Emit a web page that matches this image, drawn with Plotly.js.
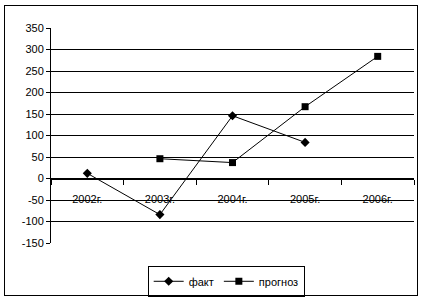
<!DOCTYPE html>
<html><head><meta charset="utf-8">
<script src="https://cdn.plot.ly/plotly-3.0.1.min.js"></script>
<style>
html,body{margin:0;padding:0;background:#fff;}
#wrap{position:relative;width:422px;height:301px;}
#chart{position:absolute;left:0;top:0;width:422px;height:301px;}
#frame{position:absolute;left:4px;top:5px;width:412px;height:289px;border:1px solid #000;pointer-events:none;}
</style></head>
<body><div id="wrap"><div id="chart"></div><div id="frame"></div></div>
<script>
var categories = ["2002г.", "2003г.", "2004г.", "2005г.", "2006г."];
var faktValues = [12, -84, 146, 84, null];
var prognozValues = [null, 46, 37, 167, 284];
var yTicks = [-150, -100, -50, 0, 50, 100, 150, 200, 250, 300, 350];

var font = {family: "Liberation Sans, Arial, sans-serif", size: 11, color: "#000"};
var traces = [
  {x: categories, y: faktValues, name: "факт", type: "scatter", mode: "lines+markers",
   line: {color: "#000", width: 1}, marker: {symbol: "diamond", size: 7, color: "#000"}},
  {x: categories, y: prognozValues, name: "прогноз", type: "scatter", mode: "lines+markers",
   line: {color: "#000", width: 1}, marker: {symbol: "square", size: 7, color: "#000"}}
];
var layout = {
  width: 422, height: 301,
  margin: {l: 51, r: 8, t: 28, b: 58, pad: 0, autoexpand: false},
  paper_bgcolor: "#fff", plot_bgcolor: "#fff",
  font: font,
  showlegend: true,
  legend: {orientation: "h", xref: "container", x: 0.536, xanchor: "center",
           yref: "container", y: 0.117, yanchor: "top",
           bordercolor: "#000", borderwidth: 1, bgcolor: "#fff", font: font,
           itemwidth: 30, tracegroupgap: 0},
  xaxis: {type: "category", anchor: "free", position: 0.3, showline: true, linecolor: "#000", linewidth: 1,
          ticks: "outside", ticklen: 5, tickcolor: "#000", tickson: "boundaries",
          showgrid: false, zeroline: false, ticklabelstandoff: 10, tickfont: font,
          range: [-0.5, 4.5], fixedrange: true, automargin: false},
  yaxis: {range: [-150, 350], tickvals: yTicks, ticktext: yTicks.map(String),
          showline: true, linecolor: "#000", linewidth: 1, ticks: "outside", ticklen: 4, tickcolor: "#000",
          showgrid: true, gridcolor: "#000", gridwidth: 1, zeroline: true, zerolinecolor: "#000", zerolinewidth: 1,
          tickfont: font, fixedrange: true, automargin: false}
};
Plotly.newPlot("chart", traces, layout, {staticPlot: true, displayModeBar: false});
</script></body></html>
